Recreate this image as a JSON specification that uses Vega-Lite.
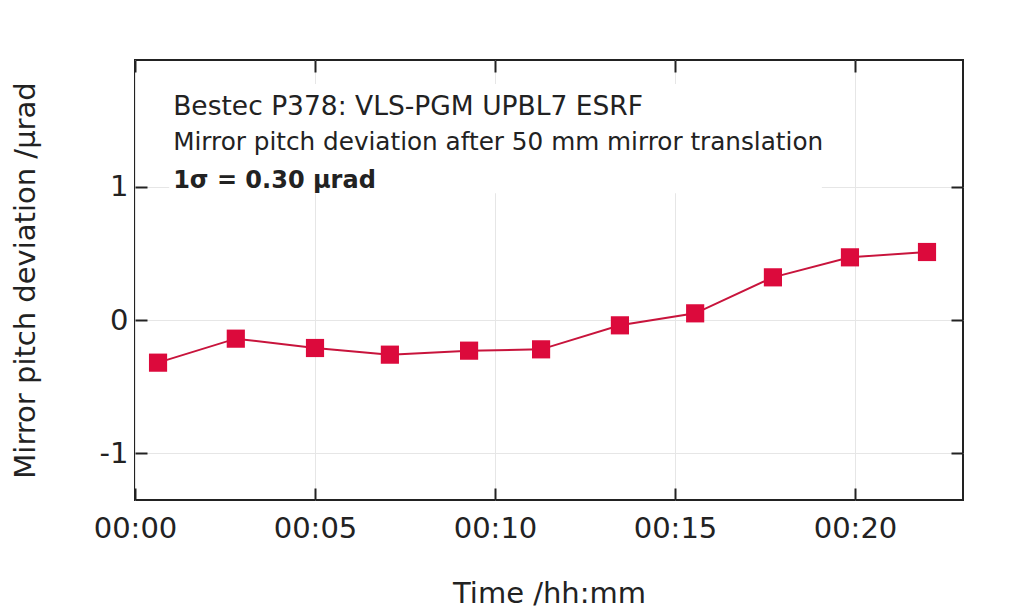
{
  "$schema": "https://vega.github.io/schema/vega-lite/v6.json",
  "width": 828,
  "height": 440,
  "autosize": {"type": "none"},
  "padding": {"left": 135, "top": 60, "right": 61, "bottom": 114},
  "background": "white",
  "config": {
    "font": "DejaVu Sans",
    "view": {"stroke": "#222222", "strokeWidth": 2},
    "axis": {
      "domain": false,
      "gridColor": "#e6e6e6",
      "gridWidth": 1,
      "tickColor": "#222222",
      "tickWidth": 2,
      "labelFont": "DejaVu Sans",
      "titleFont": "DejaVu Sans",
      "labelFontSize": 29,
      "titleFontSize": 29,
      "labelColor": "#222222",
      "titleColor": "#222222",
      "labelFontWeight": "normal",
      "titleFontWeight": "normal",
      "labelFlush": false
    }
  },
  "datasets": {
    "pts": [
      {"t": 0.64, "v": -0.32},
      {"t": 2.8, "v": -0.14},
      {"t": 5.0, "v": -0.21},
      {"t": 7.08, "v": -0.26},
      {"t": 9.28, "v": -0.23},
      {"t": 11.28, "v": -0.22},
      {"t": 13.47, "v": -0.04},
      {"t": 15.56, "v": 0.05},
      {"t": 17.72, "v": 0.32},
      {"t": 19.86, "v": 0.47},
      {"t": 22.0, "v": 0.51}
    ],
    "box": [{"x1": 0.95, "x2": 19.08, "y1": 0.95, "y2": 1.77}],
    "notes": [
      {"t": 1.06, "v": 1.6, "label": "Bestec P378: VLS-PGM UPBL7 ESRF", "line": 1},
      {"t": 1.06, "v": 1.33, "label": "Mirror pitch deviation after 50 mm mirror translation", "line": 2},
      {"t": 1.06, "v": 1.04, "label": "1σ = 0.30 µrad", "line": 3}
    ]
  },
  "layer": [
    {
      "data": {"name": "box"},
      "mark": {"type": "rect", "fill": "white", "stroke": null},
      "encoding": {
        "x": {
          "field": "x1", "type": "quantitative",
          "scale": {"domain": [0, 23], "nice": false, "zero": false},
          "axis": {
            "orient": "bottom",
            "values": [0, 5, 10, 15, 20],
            "labelExpr": "'00:' + (datum.value < 10 ? '0' : '') + datum.value",
            "tickSize": -12,
            "labelPadding": 26,
            "title": "Time /hh:mm",
            "titleBaseline": "middle",
            "titleY": 93,
            "grid": true
          }
        },
        "x2": {"field": "x2"},
        "y": {
          "field": "y1", "type": "quantitative",
          "scale": {"domain": [-1.35, 1.95], "nice": false, "zero": false},
          "axis": {
            "orient": "left",
            "values": [-1, 0, 1],
            "labelExpr": "datum.value < 0 ? '-' + abs(datum.value) : '' + datum.value",
            "tickSize": -12,
            "labelPadding": 19,
            "title": "Mirror pitch deviation /µrad",
            "titleBaseline": "middle",
            "titleX": -110,
            "grid": true
          }
        },
        "y2": {"field": "y2"}
      }
    },
    {
      "data": {"name": "pts"},
      "mark": {"type": "line", "color": "#c8143c", "strokeWidth": 2},
      "encoding": {
        "x": {
          "field": "t", "type": "quantitative",
          "axis": {"orient": "top", "values": [0, 5, 10, 15, 20], "labels": false, "tickSize": -12, "grid": false, "title": null}
        },
        "y": {
          "field": "v", "type": "quantitative",
          "axis": {"orient": "right", "values": [-1, 0, 1], "labels": false, "tickSize": -12, "grid": false, "title": null}
        }
      }
    },
    {
      "data": {"name": "pts"},
      "mark": {"type": "square", "color": "#dc0a3c", "opacity": 1, "filled": true, "size": 330},
      "encoding": {
        "x": {"field": "t", "type": "quantitative", "axis": null},
        "y": {"field": "v", "type": "quantitative", "axis": null}
      }
    },
    {
      "data": {"name": "notes"},
      "transform": [{"filter": "datum.line == 1"}],
      "mark": {"type": "text", "align": "left", "baseline": "middle", "fontSize": 26.5, "color": "#222222", "font": "DejaVu Sans"},
      "encoding": {
        "x": {"field": "t", "type": "quantitative", "axis": null},
        "y": {"field": "v", "type": "quantitative", "axis": null},
        "text": {"field": "label"}
      }
    },
    {
      "data": {"name": "notes"},
      "transform": [{"filter": "datum.line == 2"}],
      "mark": {"type": "text", "align": "left", "baseline": "middle", "fontSize": 24.7, "color": "#222222", "font": "DejaVu Sans"},
      "encoding": {
        "x": {"field": "t", "type": "quantitative", "axis": null},
        "y": {"field": "v", "type": "quantitative", "axis": null},
        "text": {"field": "label"}
      }
    },
    {
      "data": {"name": "notes"},
      "transform": [{"filter": "datum.line == 3"}],
      "mark": {"type": "text", "align": "left", "baseline": "middle", "fontSize": 24, "fontWeight": "bold", "color": "#222222", "font": "DejaVu Sans"},
      "encoding": {
        "x": {"field": "t", "type": "quantitative", "axis": null},
        "y": {"field": "v", "type": "quantitative", "axis": null},
        "text": {"field": "label"}
      }
    }
  ],
  "resolve": {"axis": {"x": "independent", "y": "independent"}}
}
